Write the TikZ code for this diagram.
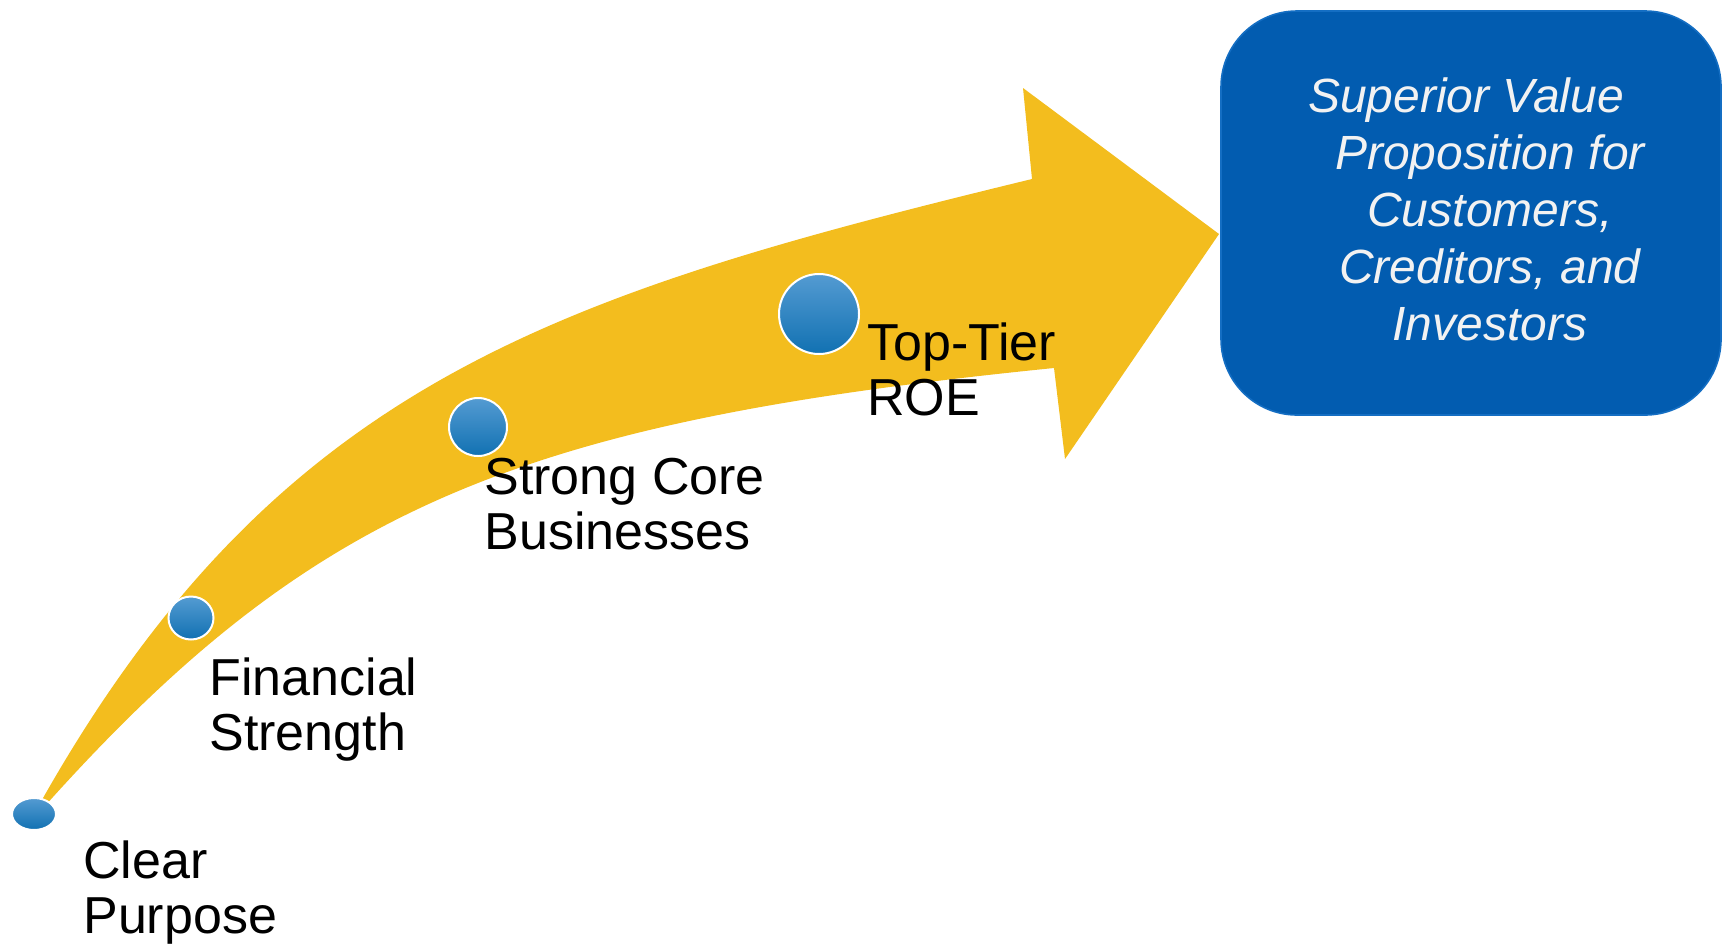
\documentclass[tikz,border=0pt]{standalone}
\usepackage{fontspec}
\setmainfont{Liberation Sans}
\usepackage{xcolor}
\usetikzlibrary{shapes.geometric}

\definecolor{arrowyellow}{RGB}{243,189,30}
\definecolor{dotlight}{RGB}{84,155,210}
\definecolor{dotdark}{RGB}{17,113,178}
\definecolor{valueblue}{RGB}{2,92,176}
\definecolor{valueedge}{RGB}{20,110,195}

\begin{document}
\begin{tikzpicture}[x=0.5pt, y=-0.5pt,
          dot/.style={ellipse, draw=white, line width=1pt, top color=dotlight, bottom color=dotdark, inner sep=0pt, outer sep=0pt},
          step label/.style={anchor=base west, align=left, inner sep=0pt, font=\fontsize{26}{27.5}\selectfont},
          valuebox/.style={draw=valueedge, line width=0.8pt, fill=valueblue, rounded corners=38pt, minimum width=250pt, minimum height=202pt, inner sep=0pt},
          valuetext/.style={align=center, text=white!95!black, inner sep=0pt, font=\fontsize{24}{28.5}\selectfont\itshape}
        ]
          \useasboundingbox (0,0) rectangle (1722,944);

          % Curved arrow
          \fill[arrowyellow] (28,825) .. controls (268,385) and (547,297) .. (1032,179)
            -- (1023,88) -- (1219,234) -- (1065,459) -- (1054,368)
            .. controls (507,423) and (305,510) .. (28,825) -- cycle;

          % Target box
          \node[valuebox] (value) at (1471,213) {};
          \node[valuetext] (valuetxt) at (1490,209) {Superior Value\hspace*{24pt}\\Proposition for\\Customers,\\Creditors, and\\Investors};

          % Milestones
          \node[dot, minimum width=22pt, minimum height=16pt] (clear) at (34,814) {};
          \node[dot, minimum width=22.5pt, minimum height=21.5pt] (financial) at (191,618) {};
          \node[dot, minimum width=29pt, minimum height=29pt] (strong) at (478,427) {};
          \node[dot, minimum width=40pt, minimum height=40pt] (toptier) at (819,314) {};

          % Labels (base = last line)
          \node[step label] (clearlbl) at (83,933) {Clear\\Purpose};
          \node[step label] (financiallbl) at (209,750) {Financial\\Strength};
          \node[step label] (stronglbl) at (484,549) {Strong Core\\Businesses};
          \node[step label] (toptierlbl) at (867,415) {Top-Tier\\ROE};
        \end{tikzpicture}
\end{document}
